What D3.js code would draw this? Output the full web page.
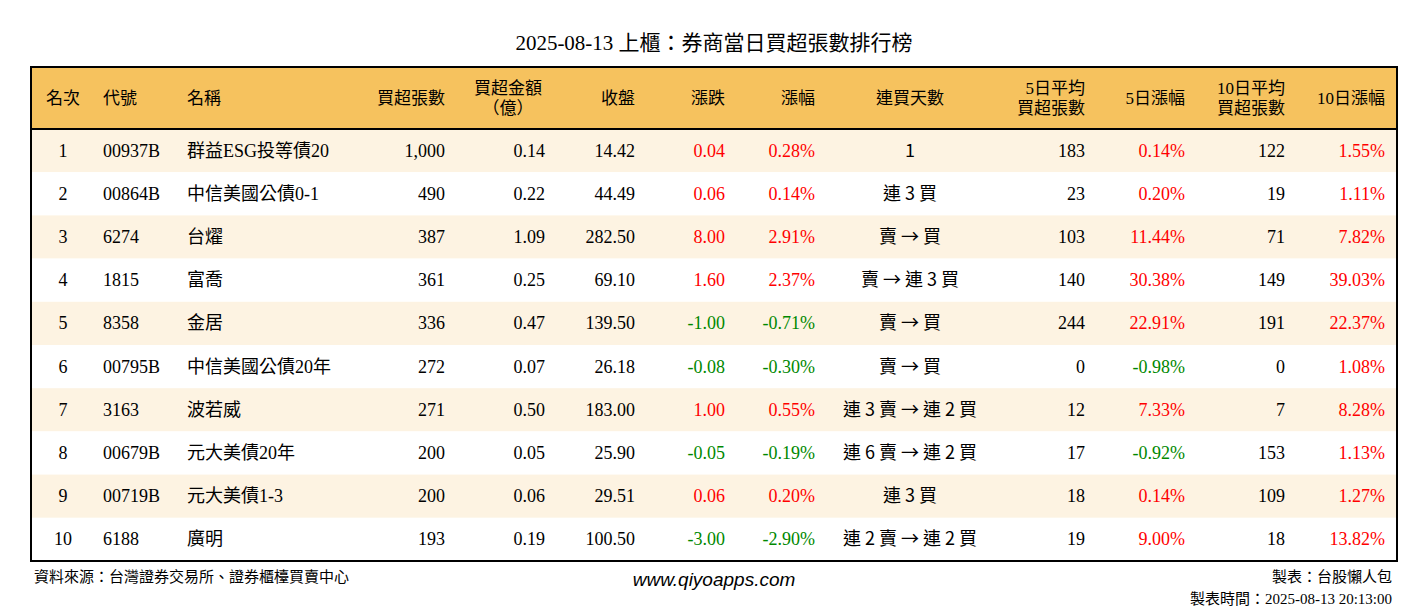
<!DOCTYPE html>
<html><head><meta charset="utf-8">
<script src="https://cdn.jsdelivr.net/npm/d3@7"></script>
<style>
body{margin:0;background:#fff;}
text{font-family:"Liberation Serif","Noto Sans CJK TC",serif;}
</style></head>
<body><div id="container"></div>
<script>
/* DATA */
const ranks = [1,2,3,4,5,6,7,8,9,10];
const codes = ["00937B","00864B","6274","1815","8358","00795B","3163","00679B","00719B","6188"];
const names = ["群益ESG投等債20","中信美國公債0-1","台燿","富喬","金居","中信美國公債20年","波若威","元大美債20年","元大美債1-3","廣明"];
const netLots = [1000,490,387,361,336,272,271,200,200,193];
const netAmount = [0.14,0.22,1.09,0.25,0.47,0.07,0.50,0.05,0.06,0.19];
const closes = [14.42,44.49,282.50,69.10,139.50,26.18,183.00,25.90,29.51,100.50];
const changes = [0.04,0.06,8.00,1.60,-1.00,-0.08,1.00,-0.05,0.06,-3.00];
const changePct = [0.28,0.14,2.91,2.37,-0.71,-0.30,0.55,-0.19,0.20,-2.90];
const streaks = ["1","連 3 買","賣 → 買","賣 → 連 3 買","賣 → 買","賣 → 買","連 3 賣 → 連 2 買","連 6 賣 → 連 2 買","連 3 買","連 2 賣 → 連 2 買"];
const avg5 = [183,23,103,140,244,0,12,17,18,19];
const pct5 = [0.14,0.20,11.44,30.38,22.91,-0.98,7.33,-0.92,0.14,9.00];
const avg10 = [122,19,71,149,191,0,7,153,109,18];
const pct10 = [1.55,1.11,7.82,39.03,22.37,1.08,8.28,1.13,1.27,13.82];

const width = 1428, height = 612;
const tLeft = 31, tRight = 1397, tTop = 67, headH = 62, tBottom = 561;

const svg = d3.select("#container").append("svg")
  .attr("width", width).attr("height", height);

const y = d3.scaleBand().domain(ranks).range([tTop + headH, tBottom]);

// title
svg.append("text").attr("x", width / 2).attr("y", 50).attr("text-anchor", "middle")
  .style("font-size", "21px").text("2025-08-13 上櫃：券商當日買超張數排行榜");

// header
svg.append("rect").attr("x", tLeft).attr("y", tTop).attr("width", tRight - tLeft).attr("height", headH)
  .attr("fill", "#F6C25E");

// rows background
svg.selectAll(".rowbg").data(ranks).enter().append("rect")
  .attr("x", tLeft).attr("y", d => y(d)).attr("width", tRight - tLeft).attr("height", y.bandwidth())
  .attr("fill", d => d % 2 ? "#FDF3E2" : "#fff");

svg.append("line").attr("x1", tLeft).attr("x2", tRight).attr("y1", tTop + headH).attr("y2", tTop + headH)
  .attr("stroke", "#000").attr("stroke-width", 2);
svg.append("rect").attr("x", tLeft).attr("y", tTop).attr("width", tRight - tLeft).attr("height", tBottom - tTop)
  .attr("fill", "none").attr("stroke", "#000").attr("stroke-width", 2);

const loc = d3.formatLocale({decimal: ".", thousands: ",", grouping: [3], currency: ["", ""], minus: "-"});
const fmtN = loc.format(",");
const f2 = loc.format(".2f");
const col = v => v > 0 ? "#f00" : v < 0 ? "#080" : "#000";
const columns = [
  {h:["名次"], x:63, a:"middle", v:i => ranks[i]},
  {h:["代號"], x:103, a:"start", v:i => codes[i]},
  {h:["名稱"], x:187, a:"start", v:i => names[i]},
  {h:["買超張數"], x:445, a:"end", v:i => fmtN(netLots[i])},
  {h:["買超金額","（億）"], x:508, hx:508, ha:"middle", x2:545, a:"end", v:i => f2(netAmount[i])},
  {h:["收盤"], x:635, a:"end", v:i => f2(closes[i])},
  {h:["漲跌"], x:725, a:"end", v:i => f2(changes[i]), c:i => col(changes[i])},
  {h:["漲幅"], x:815, a:"end", v:i => f2(changePct[i]) + "%", c:i => col(changePct[i])},
  {h:["連買天數"], x:910, a:"middle", v:i => streaks[i]},
  {h:["5日平均","買超張數"], x:1085, a:"end", v:i => avg5[i]},
  {h:["5日漲幅"], x:1185, a:"end", v:i => f2(pct5[i]) + "%", c:i => col(pct5[i])},
  {h:["10日平均","買超張數"], x:1285, a:"end", v:i => avg10[i]},
  {h:["10日漲幅"], x:1385, a:"end", v:i => f2(pct10[i]) + "%", c:i => col(pct10[i])}
];

columns.forEach(c => {
  const hx = c.hx || c.x, ha = c.ha || c.a;
  const t = svg.append("text").attr("text-anchor", ha).style("font-size", "17px");
  if (c.h.length === 1) {
    t.append("tspan").attr("x", hx).attr("y", tTop + headH / 2 + 6).text(c.h[0]);
  } else {
    t.append("tspan").attr("x", hx).attr("y", tTop + 27).text(c.h[0]);
    t.append("tspan").attr("x", hx).attr("y", tTop + 47).text(c.h[1]);
  }
  svg.selectAll(null).data(ranks).enter().append("text")
    .attr("x", c.x2 || c.x).attr("y", d => y(d) + y.bandwidth() / 2 + 6)
    .attr("text-anchor", c.a).style("font-size", "18px")
    .style("font-family", c.h[0] === "連買天數" ? "'Noto Sans CJK TC', serif" : null)
    .attr("fill", (d, i) => c.c ? c.c(i) : "#000")
    .text((d, i) => c.v(i));
});

// footer
svg.append("text").attr("x", 34).attr("y", 582).style("font-size", "15px")
  .text("資料來源：台灣證券交易所、證券櫃檯買賣中心");
svg.append("text").attr("x", 714).attr("y", 586).attr("text-anchor", "middle")
  .style("font-size", "19px").style("font-style", "italic").style("font-family", "Arial, 'Liberation Sans', sans-serif")
  .text("www.qiyoapps.com");
svg.append("text").attr("x", 1392).attr("y", 582).attr("text-anchor", "end").style("font-size", "15px")
  .text("製表：台股懶人包");
svg.append("text").attr("x", 1392).attr("y", 604).attr("text-anchor", "end").style("font-size", "15px")
  .text("製表時間：2025-08-13 20:13:00");
</script></body></html>
